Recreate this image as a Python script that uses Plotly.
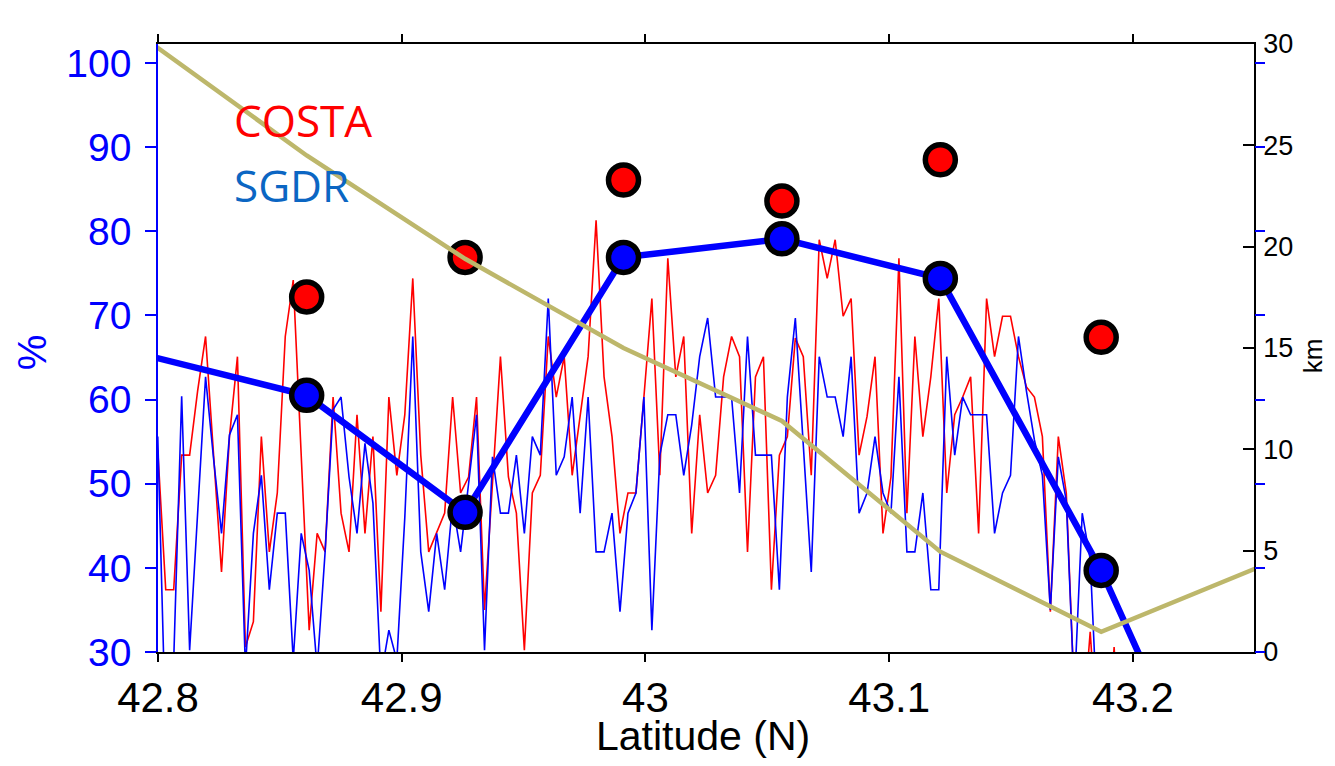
import plotly.graph_objects as go

# ---------------- data ----------------
# 20 Hz along-track sampling grid (latitude of first sample and spacing)
LAT0 = 42.7999
DLAT = 0.00327

costa = [54, 37.4, 37.4, 53.4, 53.4, 61, 67.5, 53, 39.5, 55.6,
         65.1, 30.6, 33.6, 55.6, 41.9, 48.9, 67.5, 74.2, 53, 32.6,
         44.1, 41.9, 60.3, 46.5, 41.9, 58.2, 44.1, 55.6, 34.8, 60.3,
         51.0, 58.2, 74.4, 53.4, 41.9, 44.1, 46.5, 60.3, 48.9, 50.8,
         60.3, 35.0, 50, 65.1, 50.8, 46.5, 30.2, 48.9, 51.0, 67.5,
         60.3, 65.1, 51.0, 58, 65.1, 81.3, 62.7, 55.6, 44.1, 48.9,
         48.9, 60.3, 72.0, 51.0, 76.8, 62.7, 67.5, 44.1, 58.2, 48.9,
         51.0, 62.7, 67.5, 65.1, 41.9, 62.7, 65.1, 37.4, 53.4, 55.6,
         67.3, 65.1, 51.0, 79.0, 74.4, 79.0, 69.9, 72.0, 53.4, 58.0,
         65.1, 44.1, 50.8, 76.8, 46.5, 67.5, 55.6, 62.7, 72.0, 48.9,
         58.2, 60.3, 62.7, 44.1, 72.0, 65.1, 69.9, 69.9, 65.1, 61.5,
         60.3, 55.6, 34.8, 55.6, 48.9, 25, 20, 32.4, 18, 15,
         30.6, 15]

sgdr = [55.6, 20, 29, 60.4, 30.2, 46.5, 62.7, 53, 44.1, 55.8,
        58.2, 28, 44.1, 51.0, 37.4, 46.5, 46.5, 29, 44.1, 39.7,
        28, 41.9, 58.8, 60.3, 50.8, 44.1, 54.8, 47.7, 27, 32.6,
        29, 46, 67.5, 41.9, 34.8, 44.1, 37.4, 47.7, 41.9, 50,
        58.2, 30.2, 53.2, 46.5, 46.5, 53.4, 44.1, 55.6, 53.4, 72.0,
        51.0, 53.2, 60.3, 46.5, 60.3, 41.9, 41.9, 46.5, 34.8, 46.5,
        48.9, 60.3, 32.6, 53.4, 58.2, 58.2, 51.0, 57, 65.1, 69.7,
        60.3, 60.3, 60.3, 48.9, 67.5, 53.4, 53.4, 53.4, 37.4, 60.3,
        69.7, 55, 39.5, 65.1, 60.3, 60.3, 55.6, 65.1, 46.5, 48.9,
        55.6, 48.9, 46.5, 62.7, 41.9, 41.9, 48.9, 37.4, 37.4, 65.1,
        53.4, 60.3, 58.2, 58.2, 58.2, 44.1, 48.9, 51.0, 67.5, 61,
        55.2, 51, 35.0, 53.2, 48, 25, 46.5, 41, 20]

# 1 Hz averaged points (%)
pt_lat = [42.861, 42.926, 42.991, 43.056, 43.121, 43.187]
costa_pts = [72.2, 76.9, 86.1, 83.6, 88.5, 67.4]
sgdr_pts = [60.5, 46.6, 76.9, 79.1, 74.4, 39.7]

# SGDR averaged line (extends beyond the shown range at both ends)
sgdr_line_lat = [42.796, 42.861, 42.926, 42.991, 43.056, 43.121, 43.187, 43.252]
sgdr_line_val = [65.2, 60.5, 46.6, 76.9, 79.1, 74.4, 39.7, -2.0]

# distance to coast (km)
dist_lat = [42.7966, 42.861, 42.926, 42.991, 43.056, 43.121, 43.187, 43.252]
dist_km = [30.1, 24.5, 19.4, 15.0, 11.4, 4.95, 1.0, 4.2]

x_ticks = [42.8, 42.9, 43.0, 43.1, 43.2]
x_ticktext = ["42.8", "42.9", "43", "43.1", "43.2"]
pct_ticks = [30, 40, 50, 60, 70, 80, 90, 100]
km_ticks = [0, 5, 10, 15, 20, 25, 30]

# ---------------- figure ----------------
lat_c = [LAT0 + i * DLAT for i in range(len(costa))]
lat_s = [LAT0 + i * DLAT for i in range(len(sgdr))]

BLUE = "#0000ff"
RED = "#ff0000"
OLIVE = "#bdb76b"
FONT = "Liberation Sans, Arial, sans-serif"

fig = go.Figure()
fig.add_trace(go.Scatter(x=lat_c, y=costa, mode="lines",
                         line=dict(color=RED, width=1.6), showlegend=False))
fig.add_trace(go.Scatter(x=lat_s, y=sgdr, mode="lines",
                         line=dict(color=BLUE, width=1.6), showlegend=False))
fig.add_trace(go.Scatter(x=sgdr_line_lat, y=sgdr_line_val, mode="lines",
                         line=dict(color=BLUE, width=6.5), showlegend=False))
fig.add_trace(go.Scatter(x=pt_lat, y=sgdr_pts, mode="markers",
                         marker=dict(color=BLUE, size=30,
                                     line=dict(color="black", width=5.5)),
                         showlegend=False))
fig.add_trace(go.Scatter(x=pt_lat, y=costa_pts, mode="markers",
                         marker=dict(color=RED, size=30,
                                     line=dict(color="black", width=5.5)),
                         showlegend=False))
fig.add_trace(go.Scatter(x=dist_lat, y=dist_km, mode="lines", yaxis="y2",
                         line=dict(color=OLIVE, width=4.5), showlegend=False))
# carrier for the blue mirrored ticks on the right side
fig.add_trace(go.Scatter(x=[], y=[], yaxis="y3", mode="lines",
                         showlegend=False, hoverinfo="skip"))

y1_range = [30, 102.26]

# the page adds an 8 px body margin, so the figure is sized/offset to compensate
fig.update_layout(
    width=1319, height=750,
    margin=dict(l=150, r=73, t=36, b=106),
    paper_bgcolor="white", plot_bgcolor="white",
    showlegend=False,
    xaxis=dict(range=[42.8, 43.2497], tickvals=x_ticks, ticktext=x_ticktext,
               ticks="outside", ticklen=8, tickwidth=1.5, tickcolor="black",
               showline=True, linecolor="black", linewidth=1.5, mirror="ticks",
               showgrid=False, zeroline=False,
               tickfont=dict(family=FONT, size=42, color="black"),
               ticklabelstandoff=0),
    yaxis=dict(range=y1_range, tickvals=pct_ticks,
               ticks="outside", ticklen=11, tickwidth=1.5, tickcolor=BLUE,
               showline=True, linecolor=BLUE, linewidth=1.5,
               showgrid=False, zeroline=False,
               tickfont=dict(family=FONT, size=39, color=BLUE),
               ticklabelstandoff=6),
    yaxis2=dict(range=[0, 30], tickvals=km_ticks, overlaying="y", side="right",
                ticks="inside", ticklen=11, tickwidth=1.5, tickcolor="black",
                showline=True, linecolor="black", linewidth=1.5,
                showgrid=False, zeroline=False,
                tickfont=dict(family=FONT, size=27, color="black"),
                ticklabelstandoff=2),
    yaxis3=dict(range=y1_range, tickvals=pct_ticks, overlaying="y", side="right",
                ticks="outside", ticklen=10, tickwidth=1.5, tickcolor=BLUE,
                showticklabels=False, showline=False,
                showgrid=False, zeroline=False),
    annotations=[
        dict(text="COSTA", x=42.8305, y=93.2, xref="x", yref="y",
             xanchor="left", yanchor="middle", showarrow=False,
             font=dict(family="Open Sans, sans-serif", size=44, color=RED)),
        dict(text="SGDR", x=42.8305, y=85.5, xref="x", yref="y",
             xanchor="left", yanchor="middle", showarrow=False,
             font=dict(family="Open Sans, sans-serif", size=44, color="#0b66c3")),
        dict(text="%", x=-0.1150, y=0.493, xref="paper", yref="paper",
             textangle=-90, xanchor="center", yanchor="middle", showarrow=False,
             font=dict(family=FONT, size=40, color=BLUE)),
        dict(text="km", x=1.0538, y=0.488, xref="paper", yref="paper",
             textangle=-90, xanchor="center", yanchor="middle", showarrow=False,
             font=dict(family=FONT, size=26, color="black")),
        dict(text="Latitude (N)", x=0.497, y=-0.138, xref="paper", yref="paper",
             xanchor="center", yanchor="middle", showarrow=False,
             font=dict(family=FONT, size=41, color="black")),
    ],
)

fig.write_html("out.html")
